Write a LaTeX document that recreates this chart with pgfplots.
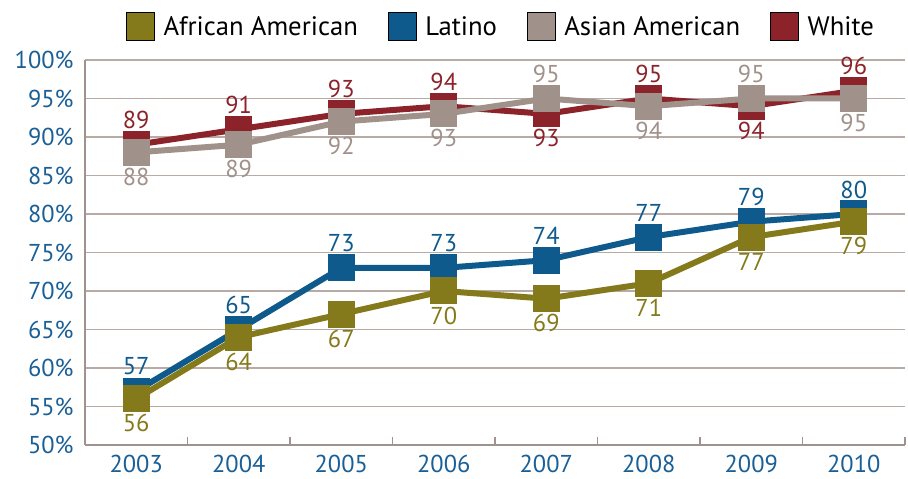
\documentclass[border=0pt]{standalone}
\usepackage{fontspec}
\setmainfont{PT Sans}
\usepackage{pgfplots}
\pgfplotsset{compat=1.18}
\usepackage{pgfplotstable}
\definecolor{aacol}{HTML}{857A1B}
\definecolor{lacol}{HTML}{0F5A8C}
\definecolor{ascol}{HTML}{A0918A}
\definecolor{whcol}{HTML}{8C232B}
\definecolor{tickblue}{HTML}{1A5F96}
\definecolor{gridc}{HTML}{B8ABA5}
\definecolor{axisc}{HTML}{A0928C}

\pgfplotstableread{
x y s
0 56 -1
1 64 -1
2 67 -1
3 70 -1
4 69 -1
5 71 -1
6 77 -1
7 79 -1
}\aa
\pgfplotstableread{
x y s
0 57 1
1 65 1
2 73 1
3 73 1
4 74 1
5 77 1
6 79 1
7 80 1
}\la
\pgfplotstableread{
x y s
0 88 -1
1 89 -1
2 92 -1
3 93 -1
4 95 1
5 94 -1
6 95 1
7 95 -1
}\as
\pgfplotstableread{
x y s
0 89 1
1 91 1
2 93 1
3 94 1
4 93 -1
5 95 1
6 94 -1
7 96 1
}\wh

\newcommand{\labfont}{\fontsize{24.5}{24.5}\selectfont}

\begin{document}
\begin{tikzpicture}
\begin{axis}[
  name=ax,
  scale only axis, width=820bp, height=385bp,
  xmin=-0.5, xmax=7.5, ymin=50, ymax=100,
  ytick={50,55,...,100},
  xtick={0,...,7},
  xticklabels={2003,2004,2005,2006,2007,2008,2009,2010},
  minor xtick={0.5,1.5,...,7.5},
  axis lines=left,
  axis line style={-, axisc, line width=2.2bp},
  ymajorgrids,
  grid style={gridc, line width=1.1bp},
  major tick length=0pt,
  minor tick length=8bp,
  tick align=inside,
  minor tick style={axisc, line width=1.2bp},
  ticklabel style={font=\labfont, text=tickblue},
  yticklabel style={xshift=-8bp},
  xticklabel style={yshift=-7bp},
  yticklabel={\pgfmathprintnumber{\tick}\%},
  /pgf/number format/assume math mode=true,
  clip=false,
  legend style={at={(0.5,1)}, anchor=south, yshift=17bp, xshift=6bp, draw=none, fill=none,
    font=\fontsize{26.8}{26.8}\selectfont,
    /tikz/every odd column/.append style={column sep=7bp},
    /tikz/every even column/.append style={column sep=28bp}},
  legend columns=4,
  legend cell align=left,
]
\addlegendimage{legend image code/.code={\shade[left color=aacol, middle color=aacol!12, right color=aacol] (0bp,-14bp) rectangle (28bp,14bp);}}
\addlegendimage{legend image code/.code={\shade[left color=lacol, middle color=lacol!12, right color=lacol] (0bp,-14bp) rectangle (28bp,14bp);}}
\addlegendimage{legend image code/.code={\shade[left color=ascol, middle color=ascol!12, right color=ascol] (0bp,-14bp) rectangle (28bp,14bp);}}
\addlegendimage{legend image code/.code={\shade[left color=whcol, middle color=whcol!12, right color=whcol] (0bp,-14bp) rectangle (28bp,14bp);}}
\legend{African American, Latino, Asian American, White}

\pgfplotsset{lab/.style={nodes near coords,
  visualization depends on={\thisrow{s}\as\sgn},
  every node near coord/.append style={anchor=center, yshift=\sgn*24.5bp, font=\labfont, text=#1}}}

\addplot[forget plot, lacol, line width=6bp, mark=square*, mark size=10.5bp, lab=lacol] table[x=x,y=y] {\la};
\addplot[forget plot, aacol, line width=6bp, mark=square*, mark size=10.5bp, lab=aacol] table[x=x,y=y] {\aa};
\addplot[forget plot, whcol, line width=6bp, mark=square*, mark size=10.5bp, lab=whcol] table[x=x,y=y] {\wh};
\addplot[forget plot, ascol, line width=6bp, mark=square*, mark size=10.5bp, lab=ascol] table[x=x,y=y] {\as};
\end{axis}
\pgfresetboundingbox
\path[use as bounding box] ([xshift=-85bp,yshift=-34bp]ax.south west) rectangle ([xshift=3bp,yshift=60bp]ax.north east);
\end{tikzpicture}
\end{document}
